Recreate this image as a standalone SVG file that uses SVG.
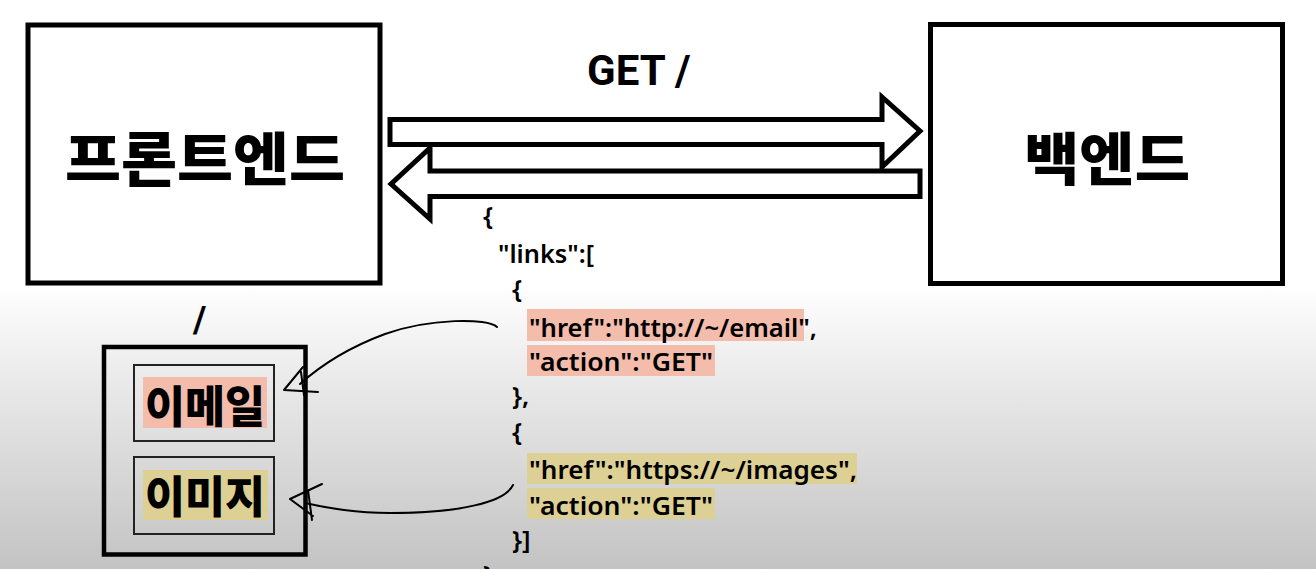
<svg xmlns="http://www.w3.org/2000/svg" width="1316" height="569" viewBox="0 0 1316 569">
<defs>
<linearGradient id="bg" x1="0" y1="0" x2="0" y2="569" gradientUnits="userSpaceOnUse">
<stop offset="0" stop-color="#ffffff"/>
<stop offset="0.5" stop-color="#ffffff"/>
<stop offset="0.65" stop-color="#ececec"/>
<stop offset="1" stop-color="#c3c3c3"/>
</linearGradient>
<style>
.box{fill:#fff;stroke:#000;stroke-width:5}
.page{fill:none;stroke:#000;stroke-width:4.5}
.inner{fill:none;stroke:#222;stroke-width:2}
.ko{font-family:"Noto Sans CJK KR",sans-serif;font-weight:900;fill:#000}
.json{font-family:"Noto Sans","Liberation Sans",sans-serif;font-weight:600;font-size:26px;fill:#000}
.arrow{fill:#fff;stroke:#000;stroke-width:5;stroke-linejoin:miter}
.pen{fill:none;stroke:#000;stroke-width:2;stroke-linecap:round;stroke-linejoin:round}
.pink{fill:#f4bcab}
.yel{fill:#ddd095}
</style>
</defs>
<rect x="0" y="0" width="1316" height="569" fill="url(#bg)"/>

<g id="frontend">
<rect class="box" x="28" y="25" width="352" height="258"/>
<text class="ko" x="205" y="155" font-size="57" text-anchor="middle" dominant-baseline="central" textLength="280" lengthAdjust="spacingAndGlyphs">프론트엔드</text>
</g>

<g id="backend">
<rect class="box" x="930.5" y="24.5" width="352" height="259"/>
<text class="ko" x="1107" y="155" font-size="57" text-anchor="middle" dominant-baseline="central" textLength="166" lengthAdjust="spacingAndGlyphs">백엔드</text>
</g>

<g id="connectors">
<polygon class="arrow" points="390,119.5 882,119.5 882,97 920,131 882,167 882,144.5 390,144.5"/>
<polygon class="arrow" points="920,171 920,196.5 430,196.5 430,219 391,184 430,148 430,171"/>
<text x="587" y="85" font-family="Roboto,'Liberation Sans',sans-serif" font-weight="700" font-size="42" fill="#000">GET /</text>
<path class="pen" d="M497,327 C488,318 430,318 385,334 C350,347 320,366 300,384"/>
<path class="pen" d="M303,367 L284,390 L318,392 M301,372 L304,395"/>
<path class="pen" d="M513,485 C505,502 460,513 390,513 C350,513 325,507 305,503"/>
<path class="pen" d="M322,484 L290,499 L313,516 M308,490 L312,520"/>
</g>

<g id="json">
<rect class="pink" x="527" y="309" width="277" height="32"/>
<rect class="pink" x="527" y="345" width="188" height="31"/>
<rect class="yel" x="527" y="453" width="330" height="31"/>
<rect class="yel" x="527" y="488" width="188" height="31"/>
<text class="json" x="483" y="225">{</text>
<text class="json" x="498" y="263" textLength="96" lengthAdjust="spacingAndGlyphs">"links":[</text>
<text class="json" x="512" y="298">{</text>
<text class="json" x="529" y="337" textLength="288" lengthAdjust="spacingAndGlyphs">"href":"http://~/email",</text>
<text class="json" x="529" y="371" textLength="184" lengthAdjust="spacingAndGlyphs">"action":"GET"</text>
<text class="json" x="512" y="405">},</text>
<text class="json" x="512" y="441">{</text>
<text class="json" x="529" y="479" textLength="328" lengthAdjust="spacingAndGlyphs">"href":"https://~/images",</text>
<text class="json" x="529" y="515" textLength="184" lengthAdjust="spacingAndGlyphs">"action":"GET"</text>
<text class="json" x="512" y="549">}]</text>
<text class="json" x="483" y="584">}</text>
</g>

<g id="page">
<text x="193" y="332" font-family="Roboto,'Liberation Sans',sans-serif" font-weight="700" font-size="36" fill="#000">/</text>
<rect class="page" x="104" y="347" width="201.5" height="207.5"/>
</g>

<g id="email">
<rect class="inner" x="134" y="365" width="140" height="76"/>
<rect class="pink" x="143" y="377" width="124" height="51"/>
<text class="ko" x="205" y="404" font-size="44" text-anchor="middle" dominant-baseline="central" textLength="120" lengthAdjust="spacingAndGlyphs">이메일</text>
</g>

<g id="images">
<rect class="inner" x="134" y="457" width="140" height="77"/>
<rect class="yel" x="143" y="470" width="125" height="50"/>
<text class="ko" x="205" y="494" font-size="44" text-anchor="middle" dominant-baseline="central" textLength="120" lengthAdjust="spacingAndGlyphs">이미지</text>
</g>
</svg>
